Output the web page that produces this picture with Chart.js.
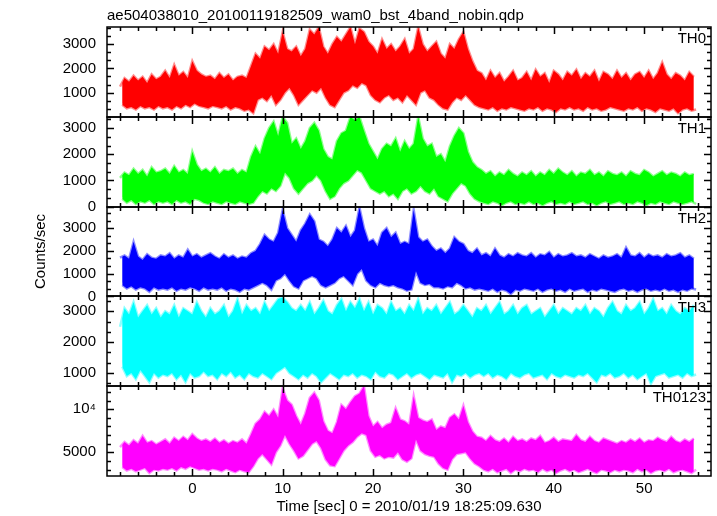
<!DOCTYPE html>
<html>
<head>
<meta charset="utf-8">
<title>ae504038010 wam0 bst 4band</title>
<script src="https://cdn.jsdelivr.net/npm/chart.js@4.4.0/dist/chart.umd.min.js"></script>
<style>
  html, body { margin: 0; padding: 0; background: #fff; }
  #wrap { width: 717px; height: 516px; position: relative; }
</style>
</head>
<body>
<div id="wrap"><canvas id="lc"></canvas></div>
<script>
"use strict";

// time grid of the light curve bins (sec), hi/lo per bin
const TIME_START = -8;
const BIN = 0.5;

const th0Hi = [
  1250, 1600, 1450, 1700, 1500, 1650, 1400, 1750, 1550, 1650,
  1900, 1600, 2150, 1700, 1850, 1600, 2300, 1900, 1750, 1650,
  1700, 1550, 1800, 1600, 1750, 1500, 1650, 1700, 1600, 2100,
  2600, 2400, 2900, 2750, 3000, 2600, 3500, 2800, 2700, 2900,
  2500, 2800, 3600, 3400, 3700, 2900, 2600, 3000, 3300, 3100,
  3400, 3700, 3000, 3650, 3500, 3100, 2900, 2600, 3200, 2800,
  3000, 2700, 2900, 3200, 2600, 2800, 3700, 3000, 2700, 2900,
  3100, 2600, 2400, 3000, 2800, 3200, 3500, 2800, 2300, 1900,
  1800, 1500, 1900, 1600, 1800, 1450, 1650, 1900, 1500, 1600,
  1850, 1500, 1950, 1650, 1800, 1400, 1900, 1750, 1500, 1850,
  1700, 1950, 1550, 1800, 1650, 1900, 1450, 1850, 1750, 1550,
  1900, 1600, 1800, 1500, 1750, 1850, 1600, 1900, 1550, 1800,
  2250, 1750, 1550, 1800, 1700, 1500, 1850, 1650
];
const th0Lo = [
  500, 350, 400, 300, 450, 350, 400, 300, 450, 350,
  400, 300, 450, 350, 500, 400, 550, 450, 400, 350,
  450, 400, 350, 450, 300, 400, 350, 250, 300, 150,
  700, 800, 650, 900, 500, 700, 1000, 1200, 900, 500,
  700, 900, 1100, 1000, 1200, 800, 500, 400, 700, 1000,
  1100, 1300, 1200, 1400, 1300, 900, 700, 600, 800, 900,
  700, 800, 600, 900, 700, 500, 1000, 1100, 800, 700,
  500, 350, 300, 600, 800, 700, 900, 700, 500, 400,
  350, 300, 400, 250, 350, 300, 400, 350, 300, 250,
  350, 300, 400, 250, 350, 300, 200, 350, 300, 400,
  300, 350, 250, 400, 300, 350, 250, 300, 400, 350,
  300, 250, 350, 300, 400, 250, 350, 300, 200, 350,
  300, 250, 350, 150, 300, 350, 250, 300
];

const th1Hi = [
  1100, 1300, 1200, 1450, 1250, 1400, 1150, 1500, 1300, 1350,
  1450, 1250, 1550, 1300, 1400, 1250, 2100, 1600, 1350, 1450,
  1300, 1500, 1250, 1400, 1350, 1450, 1250, 1400, 1300, 1900,
  2300, 2000, 2600, 3000, 3250, 2700, 3430, 3200, 2400, 2600,
  2200, 2500, 3000, 3200, 2900, 2200, 1900, 1800, 2500, 2800,
  2900, 3430, 3300, 3430, 2900, 2400, 2100, 1800, 2200, 2400,
  2300, 2600, 2100, 2500, 2200, 2400, 3430, 2600, 2300, 2400,
  1900, 2000, 1700, 2300, 2700, 3000, 2800, 2100, 1700, 1500,
  1400, 1250, 1350, 1150, 1300, 1200, 1400, 1250, 1150, 1300,
  1200, 1350, 1150, 1300, 1200, 1400, 1250, 1450, 1300, 1200,
  1350, 1150, 1300, 1250, 1400, 1200, 1300, 1150, 1350, 1250,
  1200, 1300, 1150, 1350, 1250, 1200, 1400, 1300, 1150, 1250,
  1350, 1200, 1300, 1250, 1150, 1300, 1200, 1250
];
const th1Lo = [
  300, 150, 250, 100, 200, 150, 250, 100, 200, 150,
  200, 100, 250, 150, 200, 100, 300, 250, 150, 100,
  200, 150, 100, 200, 150, 100, 200, 150, 100, 150,
  400, 600, 500, 700, 600, 800, 1300, 1100, 700, 500,
  700, 900, 1000, 1200, 1000, 600, 300, 400, 700, 900,
  1000, 1200, 1400, 1300, 1000, 700, 600, 500, 600, 400,
  500, 300, 600, 700, 500, 600, 800, 600, 500, 700,
  400, 300, 200, 500, 700, 900, 800, 500, 300, 200,
  150, 100, 200, 150, 50, 150, 200, 100, 150, 100,
  200, 100, 150, 50, 150, 200, 100, 150, 100, 200,
  100, 150, 200, 100, 150, 50, 150, 200, 100, 150,
  200, 100, 150, 100, 200, 150, 50, 150, 100, 200,
  150, 100, 200, 150, 100, 150, 200, 100
];

const th2Hi = [
  1700, 1800, 1650, 2400, 1750, 1600, 1850, 1700, 1650, 1800,
  1750, 1900, 1650, 1800, 1700, 2050, 1750, 1850, 1700, 1800,
  1900, 1750, 1650, 1850, 1700, 1800, 1650, 1750, 1700, 1900,
  2000, 2300, 2700, 2500, 2400, 2800, 3800, 3000, 2700, 2400,
  2900, 3200, 3600, 3300, 2500, 2400, 2200, 2500, 3000, 2800,
  3100, 2600, 2900, 3900, 3000, 2400, 2500, 2200, 2800, 3000,
  2600, 2800, 2300, 2400, 2300, 3800, 2600, 2400, 2500, 2200,
  2000, 2100, 1900, 2100, 2600, 2400, 2300, 2000, 1900, 2100,
  1800, 1900, 1750, 2100, 1800, 1700, 1850, 1750, 1900, 1800,
  1750, 1900, 1700, 1850, 1800, 1950, 1700, 1850, 1750, 1800,
  1900, 1750, 1800, 1700, 1850, 1750, 1650, 1800, 1700, 1750,
  1850, 1700, 2150, 1800, 1750, 1900, 1700, 1850, 1750, 1800,
  1700, 1850, 1750, 1800, 1900, 1700, 1800, 1650
];
const th2Lo = [
  500, 350, 450, 300, 400, 350, 200, 400, 300, 350,
  300, 400, 250, 350, 300, 400, 350, 250, 400, 300,
  350, 300, 400, 250, 350, 300, 200, 350, 300, 400,
  500, 600, 500, 300, 700, 800, 1000, 700, 450, 350,
  700, 800, 900, 800, 500, 400, 500, 600, 800, 900,
  700, 500, 1000, 1200, 700, 500, 400, 600, 500, 450,
  500, 400, 350, 250, 300, 1100, 600, 500, 550, 400,
  400, 350, 450, 400, 600, 500, 350, 400, 300, 350,
  300, 250, 350, 200, 300, 250, 100, 300, 250, 350,
  300, 250, 350, 200, 300, 350, 250, 300, 200, 350,
  250, 300, 350, 200, 300, 250, 350, 300, 250, 200,
  300, 350, 250, 300, 200, 300, 350, 250, 300, 250,
  350, 250, 300, 200, 300, 250, 350, 300
];

const th3Hi = [
  2500, 3100, 2900, 3300, 2800, 3000, 3200, 2900, 3100, 2800,
  3000, 2900, 3200, 2800, 3100, 3000, 2900, 3300, 3000, 2800,
  3100, 2900, 3000, 3200, 2800, 3000, 3400, 2900, 3200, 3000,
  3100, 2900, 3300, 3000, 3200, 3400, 3450, 3300, 3100, 3000,
  3200, 3000, 3300, 2900, 3100, 3350, 3000, 2900, 3200, 3400,
  3000, 3300, 3100, 3400, 3000, 3300, 2900, 3200, 3100, 2900,
  3300, 3000, 3100, 2900, 3200, 3000, 3400, 2900, 3100, 3000,
  3200, 2900, 3100, 3300, 2900, 3000, 3200, 3000, 2800, 3100,
  3000, 3200, 2900, 3100, 3300, 2900, 3000, 3200, 2900, 3100,
  3200, 2900, 3000, 3100, 2800, 3000, 3200, 2900, 3100, 3000,
  2900, 3100, 3000, 3200, 2900, 3100, 3000, 2800, 3100, 3300,
  3000, 2900, 3200, 3000, 3100, 3300, 2900, 3100, 3400, 3000,
  3100, 2900, 3200, 3000, 2900, 3100, 3000, 3200
];
const th3Lo = [
  1200, 900, 1000, 800, 1100, 900, 700, 1000, 850, 950,
  900, 1000, 800, 950, 700, 1000, 850, 900, 1050, 900,
  950, 800, 1000, 900, 1050, 850, 950, 800, 1000, 900,
  850, 1000, 900, 800, 1000, 1100, 1200, 1000, 900, 800,
  950, 850, 1000, 900, 700, 850, 1000, 900, 800, 950,
  900, 1000, 850, 950, 900, 800, 1050, 900, 850, 1000,
  950, 800, 900, 1000, 850, 950, 1000, 900, 800, 950,
  900, 850, 1000, 700, 950, 900, 1000, 850, 950, 1000,
  900, 1000, 850, 950, 900, 800, 1000, 900, 850, 950,
  1000, 850, 900, 950, 800, 1000, 900, 850, 950, 900,
  850, 950, 900, 1000, 850, 700, 950, 900, 1000, 850,
  900, 1000, 850, 950, 800, 900, 1000, 650, 900, 950,
  1000, 850, 900, 950, 850, 1000, 900, 950
];

const sumHi = [
  5600, 6200, 5800, 6400, 6000, 6900, 6100, 6300, 5900, 6200,
  6500, 6000, 6700, 6300, 6800, 6400, 7100, 6600, 6300, 6500,
  6200, 6600, 6100, 6400, 6000, 6300, 6100, 6500, 6000, 7100,
  8300, 8800, 9700, 9200, 9950, 9000, 12400, 11000, 10500, 9200,
  8200, 9500, 11300, 11900, 11000, 8600, 7500, 7200, 8500, 10500,
  10000, 10800, 11500, 11800, 12650, 9200, 8000, 8500, 7800, 8200,
  8400, 10100, 8800, 8600, 8200, 11500, 9000, 8700, 8500, 8800,
  7600, 8000, 7800, 9000, 9400, 8800, 10400, 8500, 7400, 6800,
  6700, 6300, 6900, 6400, 6200, 6600, 6100, 6800, 6300, 6500,
  6200, 6600, 6400, 6900, 6100, 6300, 6700, 6200, 6500, 6400,
  6300, 7000, 6400, 6200, 6800, 6300, 6100, 6600, 6400, 6200,
  6000, 6300, 6100, 6500, 6200, 6600, 6100, 6400, 6300, 6700,
  6400, 6200, 6800, 6300, 6100, 6500, 6200, 6600
];
const sumLo = [
  3300, 2900, 3100, 2800, 3000, 3200, 2600, 3000, 2900, 3100,
  3000, 3200, 2900, 3300, 3100, 3400, 3200, 3000, 3100, 2900,
  3100, 3000, 2800, 3100, 2900, 2700, 3000, 2800, 2700, 3400,
  4300, 4800, 4200, 3600, 5000, 5800, 7000, 6000, 5200, 4300,
  4600, 5300, 6000, 6300, 5500, 4200, 3500, 3400, 4300, 5200,
  5800, 6200, 6800, 7200, 7000, 5200, 4500, 4700, 4300, 4500,
  4400, 5000, 4200, 3900, 4300, 6500, 5200, 4800, 4600, 4500,
  3700, 3200, 3000, 4200, 4800, 4900, 5000, 4300, 3700, 3400,
  3000, 2800, 3100, 2700, 2900, 3100, 2600, 3000, 2800, 3100,
  2900, 3000, 2700, 3100, 2800, 3000, 2600, 2900, 3100, 2800,
  3000, 2700, 2900, 3100, 2800, 2600, 3000, 2900, 2700, 3000,
  2800, 3000, 2900, 2700, 3100, 2800, 3000, 2600, 2900, 3000,
  2800, 3100, 2700, 2900, 3000, 2800, 2600, 3000
];

// tick labels
const xTicks = [0, 10, 20, 30, 40, 50];
const th0Ticks = [1000, 2000, 3000];
const th1Ticks = [0, 1000, 2000, 3000];
const th2Ticks = [0, 1000, 2000, 3000];
const th3Ticks = [1000, 2000, 3000];
const sumTicks = [5000, 10000];

const TITLE = "ae504038010_20100119182509_wam0_bst_4band_nobin.qdp";
const X_TITLE = "Time [sec] 0 = 2010/01/19 18:25:09.630";
const Y_TITLE = "Counts/sec";
const FONT = "'Liberation Sans', Arial, Helvetica, sans-serif";

// panels from top to bottom
const PANELS = [
  {id: "y0", label: "TH0", color: "#ff0000", edge: "rgba(255,0,0,0.45)",
    hi: th0Hi, lo: th0Lo, min: 0, max: 3710, ticks: th0Ticks, minor: 1000 / 3},
  {id: "y1", label: "TH1", color: "#00ff00", edge: "rgba(0,255,0,0.45)",
    hi: th1Hi, lo: th1Lo, min: 0, max: 3433, ticks: th1Ticks, minor: 1000 / 3},
  {id: "y2", label: "TH2", color: "#0000ff", edge: "rgba(0,0,255,0.45)",
    hi: th2Hi, lo: th2Lo, min: 0, max: 3947, ticks: th2Ticks, minor: 1000 / 3},
  {id: "y3", label: "TH3", color: "#00ffff", edge: "rgba(0,255,255,0.45)",
    hi: th3Hi, lo: th3Lo, min: 571, max: 3484, ticks: th3Ticks, minor: 1000 / 3},
  {id: "y4", label: "TH0123", color: "#ff00ff", edge: "rgba(255,0,255,0.45)",
    hi: sumHi, lo: sumLo, min: 2263, max: 12656, ticks: sumTicks, minor: 1000}
];

(function () {
  window.addEventListener("load", init);

  function init() {
    let scales = {
      x: {
        type: "linear",
        min: -9.44,
        max: 57.4,
        grid: {display: false, drawTicks: false},
        border: {display: false},
        afterBuildTicks: s => { s.ticks = xTicks.map(v => ({value: v})); },
        afterFit: s => { s.height = 40; },
        ticks: {padding: 4, color: "#000", font: {family: FONT, size: 15}},
        title: {display: true, text: X_TITLE, color: "#000", padding: 0,
          font: {family: FONT, size: 15}}
      }
    };
    // left boxes of a stack are laid out in reverse, so add the bottom panel first
    PANELS.slice().reverse().forEach(p => {
      scales[p.id] = yScale(p);
    });

    // per panel: upper envelope filled down to the lower envelope,
    // with a faint wide edge so the rim looks fuzzy like the raw curve
    let datasets = [];
    PANELS.forEach(p => {
      datasets.push({
        label: p.label + " hi",
        data: envelope(p.hi, 0),
        yAxisID: p.id,
        borderColor: p.edge,
        backgroundColor: p.color,
        borderWidth: 2.5,
        pointRadius: 0,
        tension: 0,
        fill: "+1"
      });
      datasets.push({
        label: p.label + " lo",
        data: envelope(p.lo, BIN / 2),
        yAxisID: p.id,
        borderColor: p.edge,
        borderWidth: 2.5,
        pointRadius: 0,
        tension: 0,
        fill: false
      });
    });

    new Chart(id("lc"), {
      type: "line",
      data: {datasets: datasets},
      options: {
        responsive: true,
        maintainAspectRatio: false,
        animation: false,
        layout: {padding: {left: 7, right: 6, top: 27, bottom: 0}},
        scales: scales,
        plugins: {
          legend: {display: false},
          tooltip: {enabled: false}
        }
      },
      plugins: [panelFrame]
    });
  }

  function yScale(p) {
    return {
      type: "linear",
      position: "left",
      stack: "panels",
      stackWeight: 1,
      min: p.min,
      max: p.max,
      grid: {display: false, drawTicks: false},
      border: {display: false},
      afterBuildTicks: s => { s.ticks = p.ticks.map(v => ({value: v})); },
      afterFit: s => { s.width = 100; },
      ticks: {
        padding: 11,
        autoSkip: false,
        color: "#000",
        font: {family: FONT, size: 15},
        callback: v => (v === 10000 ? "10\u2074" : String(v))
      }
    };
  }

  function envelope(values, shift) {
    return values.map((v, i) => ({x: TIME_START + i * BIN + shift, y: v}));
  }

  // boxes with inward ticks on all sides, panel names, titles
  const panelFrame = {
    id: "panelFrame",
    afterDatasetsDraw(chart) {
      let ctx = chart.ctx;
      let area = chart.chartArea;
      let xs = chart.scales.x;
      ctx.save();
      ctx.strokeStyle = "#000";
      ctx.lineWidth = 1.5;

      PANELS.forEach(p => {
        let ys = chart.scales[p.id];
        let top = Math.round(ys.top);
        let bottom = Math.round(ys.bottom);
        ctx.strokeRect(area.left, top, area.right - area.left, bottom - top);

        ctx.beginPath();
        for (let k = -4; k <= 28; k++) {
          let v = k * 2;
          if (v < xs.min || v > xs.max) {
            continue;
          }
          let len = v % 10 === 0 ? 7 : 4;
          let px = Math.round(xs.getPixelForValue(v)) + 0.5;
          ctx.moveTo(px, top);
          ctx.lineTo(px, top + len);
          ctx.moveTo(px, bottom);
          ctx.lineTo(px, bottom - len);
        }
        let first = Math.ceil(p.min / p.minor - 1e-6);
        let last = Math.floor(p.max / p.minor + 1e-6);
        for (let k = first; k <= last; k++) {
          let v = k * p.minor;
          let major = Math.abs(v / 1000 - Math.round(v / 1000)) < 1e-6 &&
            p.ticks.indexOf(Math.round(v)) >= 0;
          let len = major ? 7 : 4;
          let py = Math.round(ys.getPixelForValue(v)) + 0.5;
          ctx.moveTo(area.left, py);
          ctx.lineTo(area.left + len, py);
          ctx.moveTo(area.right, py);
          ctx.lineTo(area.right - len, py);
        }
        ctx.stroke();

        ctx.fillStyle = "#000";
        ctx.font = "15px " + FONT;
        ctx.textAlign = "right";
        ctx.textBaseline = "alphabetic";
        ctx.fillText(p.label, area.right - 5, ys.top + 16);
      });

      ctx.textAlign = "left";
      ctx.fillText(TITLE, area.left, 20);

      ctx.translate(41, (area.top + area.bottom) / 2);
      ctx.rotate(-Math.PI / 2);
      ctx.textAlign = "center";
      ctx.textBaseline = "middle";
      ctx.fillText(Y_TITLE, 0, 0);
      ctx.restore();
    }
  };

  /**
   * Returns the element that has the ID attribute with the specified value.
   * @param {string} id - element ID.
   * @returns {object} - DOM object associated with id.
   */
  function id(id) {
    return document.getElementById(id);
  }
})();
</script>
</body>
</html>
